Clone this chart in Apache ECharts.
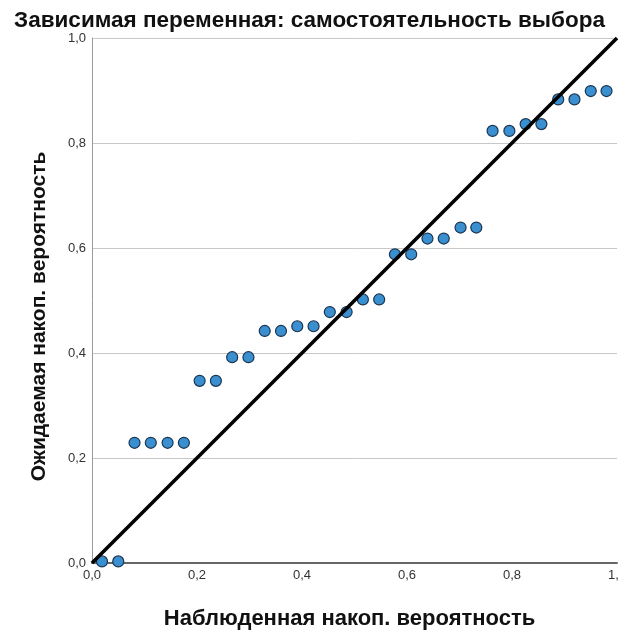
<!DOCTYPE html>
<html>
<head>
<meta charset="utf-8">
<title>P-P plot</title>
<style>
html,body { height:100%; width:100%; margin:0; padding:0; background:#fff; }
</style>
<script src="https://cdn.jsdelivr.net/npm/echarts@6/dist/echarts.min.js"></script>
</head>
<body>
<div id="chart" style="width:619px;height:640px;"></div>
<script type="text/javascript">
// наблюденная накоп. вероятность (ось X)
var observed = [0.019, 0.050, 0.081, 0.112, 0.144, 0.175, 0.205, 0.236, 0.267, 0.298,
	0.329, 0.360, 0.391, 0.422, 0.453, 0.485, 0.516, 0.547, 0.577, 0.608,
	0.639, 0.670, 0.702, 0.732, 0.763, 0.795, 0.826, 0.856, 0.888, 0.919,
	0.950, 0.980];
// ожидаемая накоп. вероятность (ось Y)
var expected = [0.003, 0.003, 0.229, 0.229, 0.229, 0.229, 0.347, 0.347, 0.392, 0.392,
	0.442, 0.442, 0.451, 0.451, 0.478, 0.478, 0.502, 0.502, 0.588, 0.588,
	0.618, 0.618, 0.639, 0.639, 0.823, 0.823, 0.836, 0.836, 0.883, 0.883,
	0.899, 0.899];
// диагональ
var diagX = [0, 1];
var diagY = [0, 1];

var points = observed.map(function (x, i) { return [x, expected[i]]; });
var diag = diagX.map(function (x, i) { return [x, diagY[i]]; });

function fmt(v) {
	return v.toFixed(1).replace('.', ',');
}

var myChart = echarts.init(document.getElementById('chart'));
var option = {
	animation: false,
	title: {
		text: 'Зависимая переменная: самостоятельность выбора',
		left: 'center',
		top: 4,
		textStyle: { fontFamily: 'Liberation Sans', fontSize: 22.5, fontWeight: 'bold', color: '#111' }
	},
	grid: { left: 92, right: 2, top: 38, bottom: 77, containLabel: false, outerBoundsMode: 'none' },
	xAxis: {
		type: 'value',
		min: 0, max: 1, interval: 0.2,
		name: 'Наблюденная накоп. вероятность',
		nameLocation: 'middle',
		nameGap: 45,
		nameTextStyle: { fontFamily: 'Liberation Sans', fontSize: 22, fontWeight: 'bold', color: '#111', padding: [0, 10, 0, 0] },
		axisLine: { lineStyle: { color: '#666', width: 2 } },
		axisTick: { show: false },
		splitLine: { show: false },
		axisLabel: { formatter: fmt, color: '#333', fontFamily: 'Liberation Sans', fontSize: 13, margin: 6 }
	},
	yAxis: {
		type: 'value',
		min: 0, max: 1, interval: 0.2,
		name: 'Ожидаемая накоп. вероятность',
		nameLocation: 'middle',
		nameGap: 42,
		nameTextStyle: { fontFamily: 'Liberation Sans', fontSize: 21, fontWeight: 'bold', color: '#111', padding: [0, 32, 0, 0] },
		axisLine: { show: true, lineStyle: { color: '#999', width: 1 } },
		axisTick: { show: false },
		splitLine: { lineStyle: { color: '#c8c8c8', width: 1 } },
		axisLabel: { formatter: fmt, color: '#333', fontFamily: 'Liberation Sans', fontSize: 13, margin: 6 }
	},
	series: [{
		type: 'line',
		data: diag,
		symbol: 'none',
		lineStyle: { color: '#000', width: 3.5 },
		z: 3
	}, {
		type: 'scatter',
		data: points,
		symbol: 'circle',
		symbolSize: 11,
		itemStyle: { color: '#3a8fd0', borderColor: '#1b3550', borderWidth: 1.2, opacity: 1 },
		z: 2
	}]
};
myChart.setOption(option);
</script>
</body>
</html>
